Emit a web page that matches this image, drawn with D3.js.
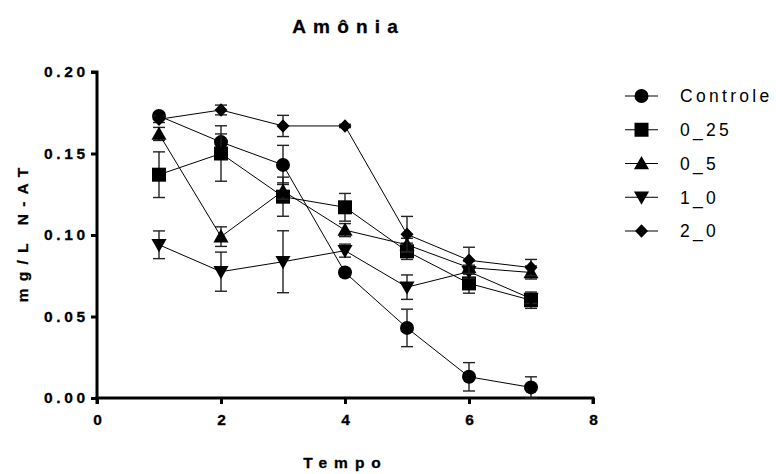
<!DOCTYPE html>
<html><head><meta charset="utf-8">
<script src="https://cdn.jsdelivr.net/npm/d3@7"></script>
<style>
html,body{margin:0;padding:0;background:#fff;}
svg{display:block;font-family:"Liberation Sans",Arial,sans-serif;}
</style></head>
<body>
<svg id="chart" width="776" height="474"></svg>
<script>
const days = [1, 2, 3, 4, 5, 6, 7];
const seriesNames = ["Controle", "0_25", "0_5", "1_0", "2_0"];
const seriesSymbols = ["circle", "square", "triUp", "triDown", "diamond"];
const controle = [0.173, 0.157, 0.143, 0.077, 0.043, 0.013, 0.0065];
const controleErr = [0.002, 0.005, 0.012, 0.002, 0.0115, 0.0087, 0.0065];
const s025 = [0.137, 0.150, 0.1235, 0.117, 0.090, 0.0703, 0.060];
const s025Err = [0.014, 0.017, 0.012, 0.0085, 0.005, 0.006, 0.005];
const s05 = [0.162, 0.099, 0.127, 0.103, 0.094, 0.080, 0.077];
const s05Err = [0.004, 0.006, 0.005, 0.004, 0.004, 0.004, 0.004];
const s10 = [0.094, 0.0775, 0.0836, 0.0904, 0.068, 0.0775, 0.061];
const s10Err = [0.0085, 0.012, 0.019, 0.004, 0.0075, 0.004, 0.003];
const s20 = [0.171, 0.1767, 0.1669, 0.1669, 0.1004, 0.0845, 0.080];
const s20Err = [0.002, 0.003, 0.0065, 0.001, 0.011, 0.008, 0.005];
const xTicks = [0, 2, 4, 6, 8];
const yTicks = [0, 0.05, 0.10, 0.15, 0.20];
const title = "Amônia";
const xTitle = "Tempo";
const yTitle = "mg/L N-AT";

const values = [controle, s025, s05, s10, s20];
const errs = [controleErr, s025Err, s05Err, s10Err, s20Err];

const svg = d3.select("#chart");
const x = d3.scaleLinear().domain([0, 8]).range([97, 593]);
const y = d3.scaleLinear().domain([0, 0.20]).range([398, 72]);

function symPath(type, s) {
  switch (type) {
    case "circle": return d3.symbol(d3.symbolCircle, Math.PI * s * s)();
    case "square": return `M${-s},${-s}H${s}V${s}H${-s}Z`;
    case "triUp": return `M0,${-s*1.05}L${s*1.05},${s*0.8}L${-s*1.05},${s*0.8}Z`;
    case "triDown": return `M0,${s*1.05}L${s*1.05},${-s*0.8}L${-s*1.05},${-s*0.8}Z`;
    case "diamond": return `M0,${-s*1.05}L${s},0L0,${s*1.05}L${-s},0Z`;
  }
}
const symSize = {circle: 7, square: 7, triUp: 7.2, triDown: 7.2, diamond: 6.5};

// axes
const yAxis = d3.axisLeft(y).tickValues(yTicks).tickFormat(d3.format(".2f")).tickSize(6).tickPadding(6);
const xAxis = d3.axisBottom(x).tickValues(xTicks).tickFormat(d3.format("d")).tickSize(6).tickPadding(9);

const gy = svg.append("g").attr("transform", "translate(97,0)").call(yAxis);
const gx = svg.append("g").attr("transform", "translate(0,398)").call(xAxis);
[gx, gy].forEach(g => {
  g.select(".domain").attr("stroke", "#000").attr("stroke-width", 3);
  g.selectAll(".tick line").attr("stroke", "#000").attr("stroke-width", 3);
  g.selectAll(".tick text").attr("fill", "#000").attr("font-size", 15.5).attr("font-weight", "bold")
    .attr("stroke", "#000").attr("stroke-width", 0.3)
    .attr("font-family", "Liberation Sans, Arial, sans-serif");
});
gy.select(".domain").attr("d", `M-6,${y(0.20)}H0V${y(0)}`);
gx.select(".domain").attr("d", `M${x(0)},6V0H${x(8)}V6`);
gy.selectAll(".tick text").attr("letter-spacing", 3.6).attr("dx", 3.6);
gx.selectAll(".tick text").attr("dy", "0.8em");

// series
const plot = svg.append("g");
values.forEach((vals, si) => {
  const g = plot.append("g");
  const e = errs[si];
  days.forEach((d, i) => {
    const cx = x(d);
    const y1 = y(vals[i] + e[i]), y2 = y(vals[i] - e[i]);
    g.append("line").attr("x1", cx).attr("x2", cx).attr("y1", y1).attr("y2", y2)
      .attr("stroke", "#222").attr("stroke-width", 1.4);
    [y1, y2].forEach(yy => g.append("line").attr("x1", cx - 6).attr("x2", cx + 6)
      .attr("y1", yy).attr("y2", yy).attr("stroke", "#222").attr("stroke-width", 1.4));
  });
  g.append("path").datum(days.map((d, i) => [d, vals[i]]))
    .attr("fill", "none").attr("stroke", "#000").attr("stroke-width", 1)
    .attr("d", d3.line().x(p => x(p[0])).y(p => y(p[1])));
  const t = seriesSymbols[si];
  g.selectAll("path.m").data(days.map((d, i) => [d, vals[i]])).enter().append("path")
    .attr("class", "m").attr("fill", "#000")
    .attr("transform", p => `translate(${x(p[0])},${y(p[1])})`)
    .attr("d", symPath(t, symSize[t]));
});

// legend
const leg = svg.append("g");
const legY = d3.scalePoint().domain(seriesNames).range([96, 231]);
seriesNames.forEach((n, i) => {
  const yy = legY(n);
  leg.append("line").attr("x1", 625).attr("x2", 658).attr("y1", yy).attr("y2", yy)
    .attr("stroke", "#000").attr("stroke-width", 1);
  const t = seriesSymbols[i];
  leg.append("path").attr("transform", `translate(641.5,${yy})`).attr("d", symPath(t, symSize[t])).attr("fill", "#000");
  leg.append("text").attr("x", 680).attr("y", yy).attr("dy", "0.36em")
    .attr("font-size", 17.5).attr("letter-spacing", 3.3).attr("fill", "#000").text(n);
});

// titles
svg.append("text").attr("x", 345 + 3.6).attr("y", 33).attr("text-anchor", "middle")
  .attr("font-size", 19).attr("font-weight", "bold").attr("letter-spacing", 7.2)
  .attr("stroke", "#000").attr("stroke-width", 0.3).text(title);
svg.append("text").attr("x", 342 + 3.5).attr("y", 468).attr("text-anchor", "middle")
  .attr("font-size", 15.5).attr("font-weight", "bold").attr("letter-spacing", 7)
  .attr("stroke", "#000").attr("stroke-width", 0.3).text(xTitle);
svg.append("text").attr("transform", "translate(28,235) rotate(-90)").attr("text-anchor", "middle")
  .attr("dx", 3.6).attr("font-size", 15.5).attr("font-weight", "bold").attr("letter-spacing", 7.2)
  .attr("stroke", "#000").attr("stroke-width", 0.3).text(yTitle);
</script>
</body></html>
